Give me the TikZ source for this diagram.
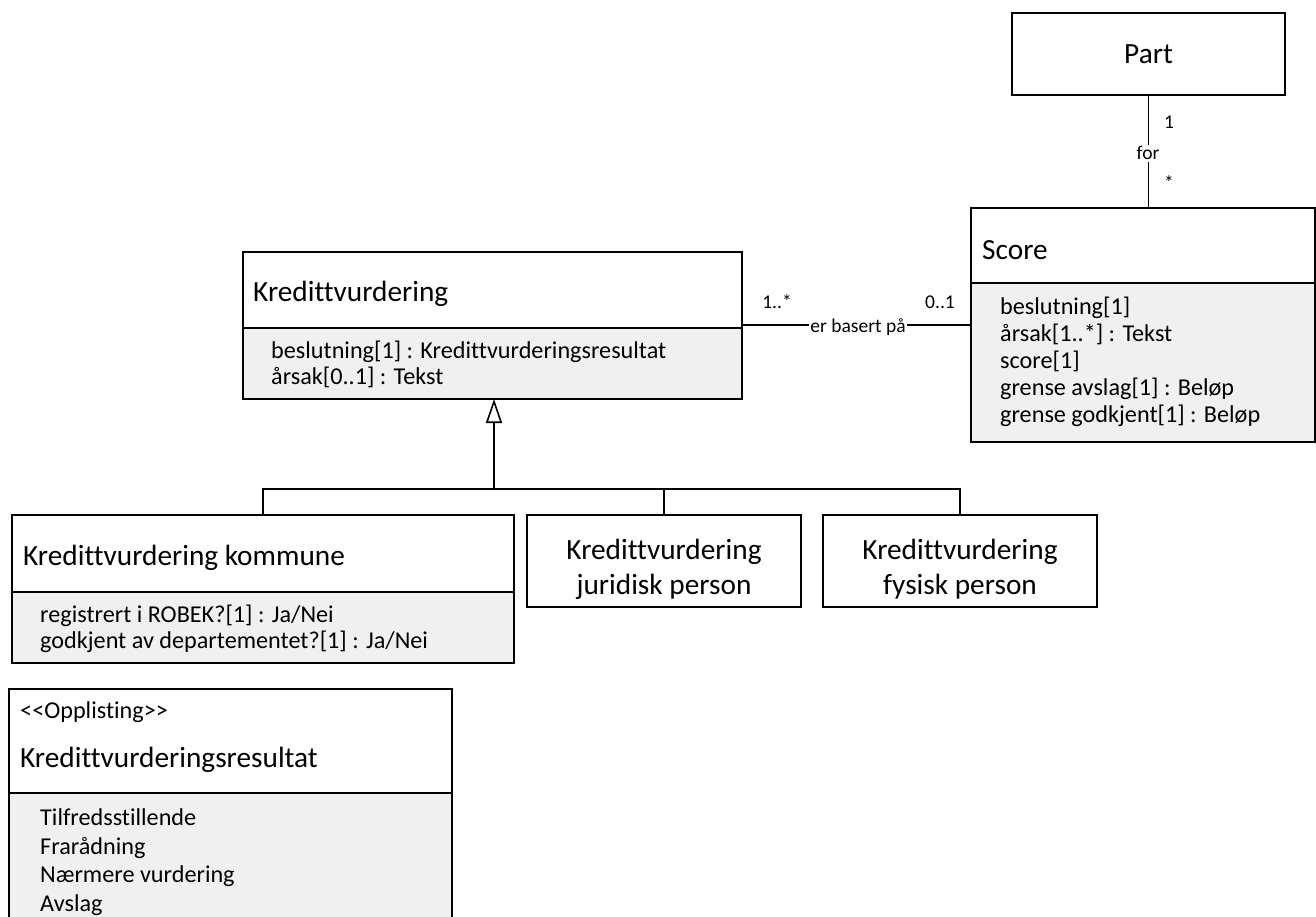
\documentclass[tikz,border=0pt]{standalone}
\usepackage{fontspec}
\setmainfont{Carlito}[Ligatures={NoCommon}]
\usetikzlibrary{arrows.meta,calc}
\definecolor{compgray}{HTML}{F0F0F0}
\newcommand{\clsfont}{\fontsize{29.3}{35}\selectfont}
\newcommand{\attfont}{\fontsize{24.2}{29}\selectfont}
\newcommand{\lblfont}{\fontsize{19.5}{23}\selectfont}

\begin{document}
\begin{tikzpicture}[x=1pt,y=-1pt,
  frame/.style={draw=black, line width=1.4pt, inner sep=0pt, outer sep=0pt, anchor=north west},
  headbox/.style={frame, fill=white},
  attrbox/.style={frame, fill=compgray},
  clstitle/.style={font=\clsfont, inner sep=0pt, anchor=base west},
  clsname/.style={font=\clsfont, inner sep=0pt, anchor=base},
  attrtext/.style={font=\attfont, inner sep=0pt, anchor=base west},
  mult/.style={font=\lblfont, inner sep=0pt, anchor=base},
  assocname/.style={font=\lblfont, inner sep=1.5pt, fill=white, anchor=base},
  link/.style={line width=1.4pt},
  gentip/.style={line width=1.6pt, -{Triangle[open, length=24pt, width=16pt]}}
]
\useasboundingbox (0,0) rectangle (1316,917);
\clip (0,0) rectangle (1316,917);
\fill[white] (0,0) rectangle (1316,917);

% ---- Part ----
\node[headbox, minimum width=273pt, minimum height=82pt] (part) at (1012,13) {};
\node[clsname] (partname) at (1148.5,64) {Part};

% ---- Score ----
\node[headbox, minimum width=344pt, minimum height=75pt] (scorehead) at (971,208) {};
\node[attrbox, minimum width=344pt, minimum height=159pt] (scoreattr) at (971,283) {};
\node[clstitle] (scorename) at (982,259) {Score};
\node[attrtext] (sc1) at (1000,314) {beslutning[1]};
\node[attrtext] (sc2) at (1000,341) {årsak[1..*] : Tekst};
\node[attrtext] (sc3) at (1000,368) {score[1]};
\node[attrtext] (sc4) at (1000,395) {grense avslag[1] : Beløp};
\node[attrtext] (sc5) at (1000,422) {grense godkjent[1] : Beløp};

% ---- Kredittvurdering ----
\node[headbox, minimum width=499pt, minimum height=76pt] (kvhead) at (243,252) {};
\node[attrbox, minimum width=499pt, minimum height=71pt] (kvattr) at (243,328) {};
\node[clstitle] (kvname) at (253,301) {Kredittvurdering};
\node[attrtext] (kv1) at (271,358) {beslutning[1] : Kredittvurderingsresultat};
\node[attrtext] (kv2) at (271,384) {årsak[0..1] : Tekst};

% ---- Kredittvurdering kommune ----
\node[headbox, minimum width=502pt, minimum height=77pt] (kmhead) at (12,515) {};
\node[attrbox, minimum width=502pt, minimum height=71pt] (kmattr) at (12,592) {};
\node[clstitle] (kmname) at (23,565) {Kredittvurdering kommune};
\node[attrtext] (km1) at (40,622) {registrert i ROBEK?[1] : Ja/Nei};
\node[attrtext] (km2) at (40,648) {godkjent av departementet?[1] : Ja/Nei};

% ---- Kredittvurdering juridisk person ----
\node[headbox, minimum width=274pt, minimum height=92pt] (jur) at (527,515) {};
\node[clsname] (jur1) at (664,559) {Kredittvurdering};
\node[clsname] (jur2) at (664,594) {juridisk person};

% ---- Kredittvurdering fysisk person ----
\node[headbox, minimum width=274pt, minimum height=92pt] (fys) at (823,515) {};
\node[clsname] (fys1) at (960,559) {Kredittvurdering};
\node[clsname] (fys2) at (960,594) {fysisk person};

% ---- Kredittvurderingsresultat (enumeration) ----
\node[headbox, minimum width=443pt, minimum height=104pt] (krhead) at (9,689) {};
\node[attrbox, minimum width=443pt, minimum height=140pt] (krattr) at (9,793) {};
\node[attrtext] (krstereo) at (20,718) {<\kern0pt<Opplisting>\kern0pt>};
\node[clstitle] (krname) at (20,767) {Kredittvurderingsresultat};
\node[attrtext] (kr1) at (40,825) {Tilfredsstillende};
\node[attrtext] (kr2) at (40,854) {Frarådning};
\node[attrtext] (kr3) at (40,882) {Nærmere vurdering};
\node[attrtext] (kr4) at (40,911) {Avslag};

% ---- association Part -- Score ----
\draw[link] (part.south) -- (part.south |- scorehead.north);
\node[assocname] (forlbl) at (1148,160) {for};
\node[mult] (m1) at (1169,129) {1};
\node[mult] (m2) at (1169,190) {*};

% ---- association Kredittvurdering -- Score ----
\coordinate (abeg) at ($(kvhead.south east)+(0,-3)$);
\draw[link] (abeg) -- (abeg -| scoreattr.west);
\node[assocname] (baslbl) at (858,332) {er basert på};
\node[mult] (m3) at (777,308.5) {1..*};
\node[mult] (m4) at (940,308.5) {0..1};

% ---- generalization ----
\coordinate (gen) at (494,489);
\draw[link] (kmhead.north) -- ++(0,-26) -| (fys.north);
\draw[link] (jur.north) -- (jur.north |- gen);
\draw[gentip] (gen) -- (gen |- kvattr.south);

\end{tikzpicture}
\end{document}
